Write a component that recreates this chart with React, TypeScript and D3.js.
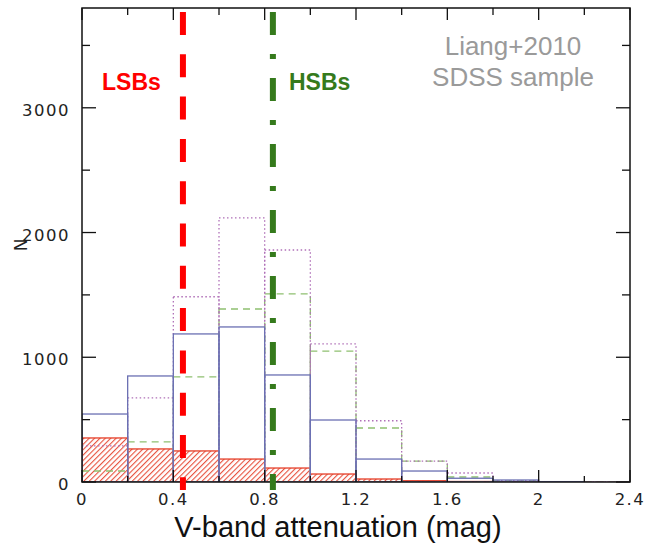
import React from 'react';
import * as d3 from 'd3';

const binStarts = [0, 0.2, 0.4, 0.6, 0.8, 1.0, 1.2, 1.4, 1.6, 1.8, 2.0, 2.2];
const binWidth = 0.2;
const blueValues = [545, 850, 1187, 1243, 858, 497, 184, 88, 30, 16, 3, 0];
const magentaValues = [290, 674, 1485, 2117, 1860, 1107, 491, 168, 72, 10, 3, 2];
const greenValues = [88, 321, 842, 1387, 1508, 1050, 433, 168, 40, 8, 3, 2];
const redValues = [353, 265, 249, 184, 112, 64, 24, 10, 4, 2, 0, 0];
const xMajorTicks = [0, 0.4, 0.8, 1.2, 1.6, 2, 2.4];
const xMinorTicks = [0.2, 0.6, 1.0, 1.4, 1.8, 2.2];
const yMajorTicks = [0, 1000, 2000, 3000];
const yMinorTicks = [500, 1500, 2500, 3500];
const lsbLine = 0.442;
const hsbLine = 0.836;

const W = 647, H = 546;
const left = 82, right = 630, top = 8, bottom = 482;

export default function App() {
  const x = d3.scaleLinear().domain([0, 2.4]).range([left, right]);
  const y = d3.scaleLinear().domain([0, 3800]).range([bottom, top]);
  const fmt = (v: number) => String(+v.toFixed(1));

  const bars = (vals: number[], key: string, props: any) =>
    vals.map((v, i) => (
      <rect key={key + i} x={x(binStarts[i])} y={y(v)} width={x(binStarts[i] + binWidth) - x(binStarts[i])}
        height={y(0) - y(v)} {...props} />
    ));

  const tickFont = { fontFamily: '"DejaVu Sans", sans-serif', fontSize: 16.5, fill: '#222', letterSpacing: 1.5 };

  return (
    <svg width={W} height={H} style={{ position: 'absolute', left: 0, top: 0, background: '#fff' }}>
      <defs>
        <pattern id="hatch" patternUnits="userSpaceOnUse" width={3.8} height={3.8} patternTransform="rotate(45)">
          <line x1={0.6} y1={0} x2={0.6} y2={3.8} stroke="#e53e28" strokeWidth={1.0} />
        </pattern>
        <clipPath id="plot"><rect x={left} y={top} width={right - left} height={bottom - top} /></clipPath>
      </defs>
      <rect x={0} y={0} width={W} height={H} fill="#fff" />
      <g clipPath="url(#plot)">
        {bars(redValues, 'r', { fill: 'url(#hatch)', stroke: '#e53e28', strokeWidth: 1.3 })}
        {bars(greenValues, 'g', { fill: 'none', stroke: '#8fc070', strokeWidth: 1.3, strokeDasharray: '7 5' })}
        {bars(magentaValues, 'm', { fill: 'none', stroke: '#b070b8', strokeWidth: 1.3, strokeDasharray: '1.5 2.5' })}
        {bars(blueValues, 'b', { fill: 'none', stroke: '#6b70b3', strokeWidth: 1.3 })}
      </g>
      <rect x={left} y={top} width={right - left} height={bottom - top} fill="none" stroke="#111" strokeWidth={1.5} />
      {xMajorTicks.map(t => (
        <g key={'xM' + t}>
          <line x1={x(t)} x2={x(t)} y1={bottom} y2={bottom - 12} stroke="#111" strokeWidth={1.3} />
          <line x1={x(t)} x2={x(t)} y1={top} y2={top + 12} stroke="#111" strokeWidth={1.3} />
          <text x={x(t)} y={505} textAnchor="middle" {...tickFont}>{fmt(t)}</text>
        </g>
      ))}
      {xMinorTicks.map(t => (
        <g key={'xm' + t}>
          <line x1={x(t)} x2={x(t)} y1={bottom} y2={bottom - 6} stroke="#111" strokeWidth={1.3} />
          <line x1={x(t)} x2={x(t)} y1={top} y2={top + 7} stroke="#111" strokeWidth={1.3} />
        </g>
      ))}
      {yMajorTicks.map(t => (
        <g key={'yM' + t}>
          <line x1={left} x2={left + 14} y1={y(t)} y2={y(t)} stroke="#111" strokeWidth={1.3} />
          <line x1={right} x2={right - 14} y1={y(t)} y2={y(t)} stroke="#111" strokeWidth={1.3} />
          <text x={70} y={y(t) + 8} textAnchor="end" {...tickFont}>{fmt(t)}</text>
        </g>
      ))}
      {yMinorTicks.map(t => (
        <g key={'ym' + t}>
          <line x1={left} x2={left + 8} y1={y(t)} y2={y(t)} stroke="#111" strokeWidth={1.3} />
          <line x1={right} x2={right - 8} y1={y(t)} y2={y(t)} stroke="#111" strokeWidth={1.3} />
        </g>
      ))}
      <line x1={x(lsbLine)} x2={x(lsbLine)} y1={12} y2={490} stroke="#ff0000" strokeWidth={6} strokeDasharray="23 19.3" />
      <line x1={x(hsbLine)} x2={x(hsbLine)} y1={12} y2={490} stroke="#357a1c" strokeWidth={6} strokeDasharray="23 19 5 19" />
      <text x={102} y={90} fontFamily='"Liberation Sans", Arial, sans-serif' fontWeight="bold" fontSize={23} fill="#ff0000">LSBs</text>
      <text x={289} y={90} fontFamily='"Liberation Sans", Arial, sans-serif' fontWeight="bold" fontSize={23} fill="#357a1c">HSBs</text>
      <text x={513} y={55} textAnchor="middle" fontFamily='"Liberation Sans", Arial, sans-serif' fontSize={26} fill="#9a9a9a">Liang+2010</text>
      <text x={513} y={86} textAnchor="middle" fontFamily='"Liberation Sans", Arial, sans-serif' fontSize={26} fill="#9a9a9a">SDSS sample</text>
      <text x={338} y={537} textAnchor="middle" fontFamily='"Liberation Sans", Arial, sans-serif' fontSize={29} fill="#111">V-band attenuation (mag)</text>
      <text transform="translate(27,245) rotate(-90)" textAnchor="middle" fontFamily='"DejaVu Sans", sans-serif' fontSize={17} fill="#222">N</text>
    </svg>
  );
}
